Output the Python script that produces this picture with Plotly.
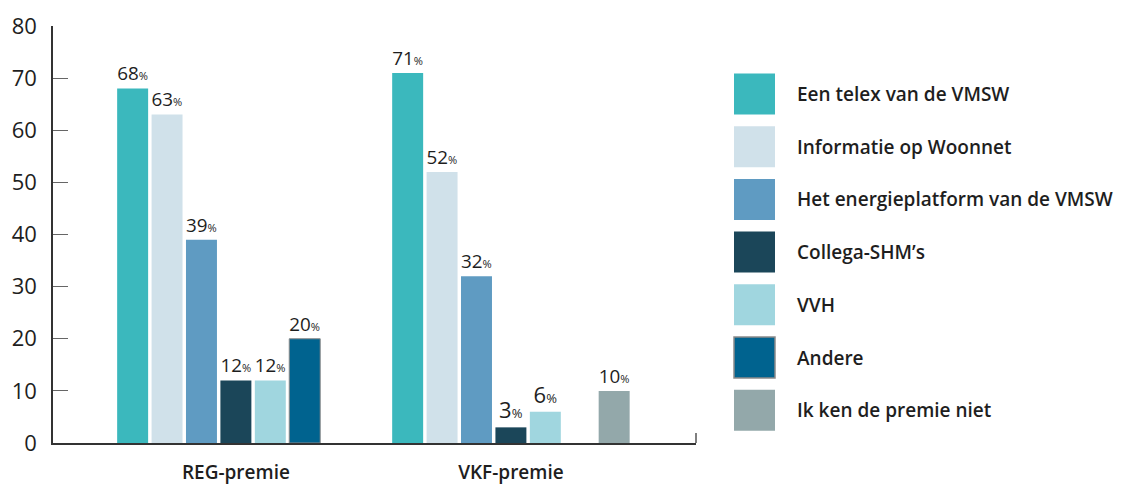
import plotly.graph_objects as go

# Survey: through which channel did respondents learn about each premium?
categories = ["REG-premie", "VKF-premie"]

series_names = [
    "Een telex van de VMSW",
    "Informatie op Woonnet",
    "Het energieplatform van de VMSW",
    "Collega-SHM’s",
    "VVH",
    "Andere",
    "Ik ken de premie niet",
]
telex = [68, 71]
woonnet = [63, 52]
energieplatform = [39, 32]
collega = [12, 3]
vvh = [12, 6]
andere = [20, None]
ken_niet = [None, 10]

series_values = [telex, woonnet, energieplatform, collega, vvh, andere, ken_niet]
colors = ["#3bb8bd", "#d0e1ea", "#5f9bc2", "#1b4659", "#a0d6df", "#00638f", "#93a8aa"]
borders = [None, None, None, None, None, "#8a8a8a", None]

y_ticks = [0, 10, 20, 30, 40, 50, 60, 70, 80]

FONT = "Open Sans"
INK = "#1e1e1e"

fig = go.Figure()
for name, vals, col, border in zip(series_names, series_values, colors, borders):
    fig.add_trace(go.Bar(
        name=name,
        x=categories,
        y=vals,
        marker=dict(color=col,
                    line=dict(color=border if border else col, width=1 if border else 0)),
        texttemplate="%{y}<span style='font-size:13px'>%</span>",
        textposition="outside",
        textfont=dict(family=FONT, size=22, color=INK),
        cliponaxis=False,
        showlegend=False,
    ))

# Custom legend: large square swatches with bold labels to the right of the plot
shapes = []
annotations = []
top_center = 0.837
step = 0.1264
for i, (name, col, border) in enumerate(zip(series_names, colors, borders)):
    yc = top_center - i * step
    shapes.append(dict(
        type="rect", xref="paper", yref="paper",
        xsizemode="pixel", ysizemode="pixel",
        xanchor=1.0, yanchor=yc,
        x0=38, x1=79, y0=-20.5, y1=20.5,
        fillcolor=col,
        line=dict(color=border if border else col, width=1.5 if border else 0),
    ))
    annotations.append(dict(
        xref="paper", yref="paper", x=1.0, y=yc,
        xshift=99, xanchor="left", yanchor="middle",
        text=name, showarrow=False,
        font=dict(family=FONT, size=19, color=INK, weight=600),
    ))

# small end tick at the right end of the x axis
shapes.append(dict(
    type="line", xref="x domain", yref="y",
    x0=1, x1=1, y0=0, y1=1.9,
    line=dict(color="#555555", width=1.5),
))

fig.update_layout(
    width=1129, height=485,
    margin=dict(l=53, r=433, t=26, b=42),
    paper_bgcolor="white", plot_bgcolor="white",
    barmode="group",
    bargap=0.124,
    bargroupgap=0.1,
    shapes=shapes,
    annotations=annotations,
    font=dict(family=FONT, color=INK),
)

fig.update_xaxes(
    type="category",
    range=[-0.665, 1.673],
    automargin=False,
    showline=True, linecolor="#333333", linewidth=1.5,
    ticks="outside", ticklen=11, tickcolor="rgba(0,0,0,0)",
    tickfont=dict(family=FONT, size=19, color=INK, weight=600),
    showgrid=False, zeroline=False,
)

fig.update_yaxes(
    range=[0, 80],
    tickvals=y_ticks,
    automargin=False,
    showline=True, linecolor="#333333", linewidth=1.5,
    ticks="inside", ticklen=15, tickcolor="#666666", tickwidth=1.2,
    ticklabelstandoff=10,
    tickfont=dict(family=FONT, size=22, color=INK),
    showgrid=False, zeroline=False,
)

fig.write_html("out.html")
